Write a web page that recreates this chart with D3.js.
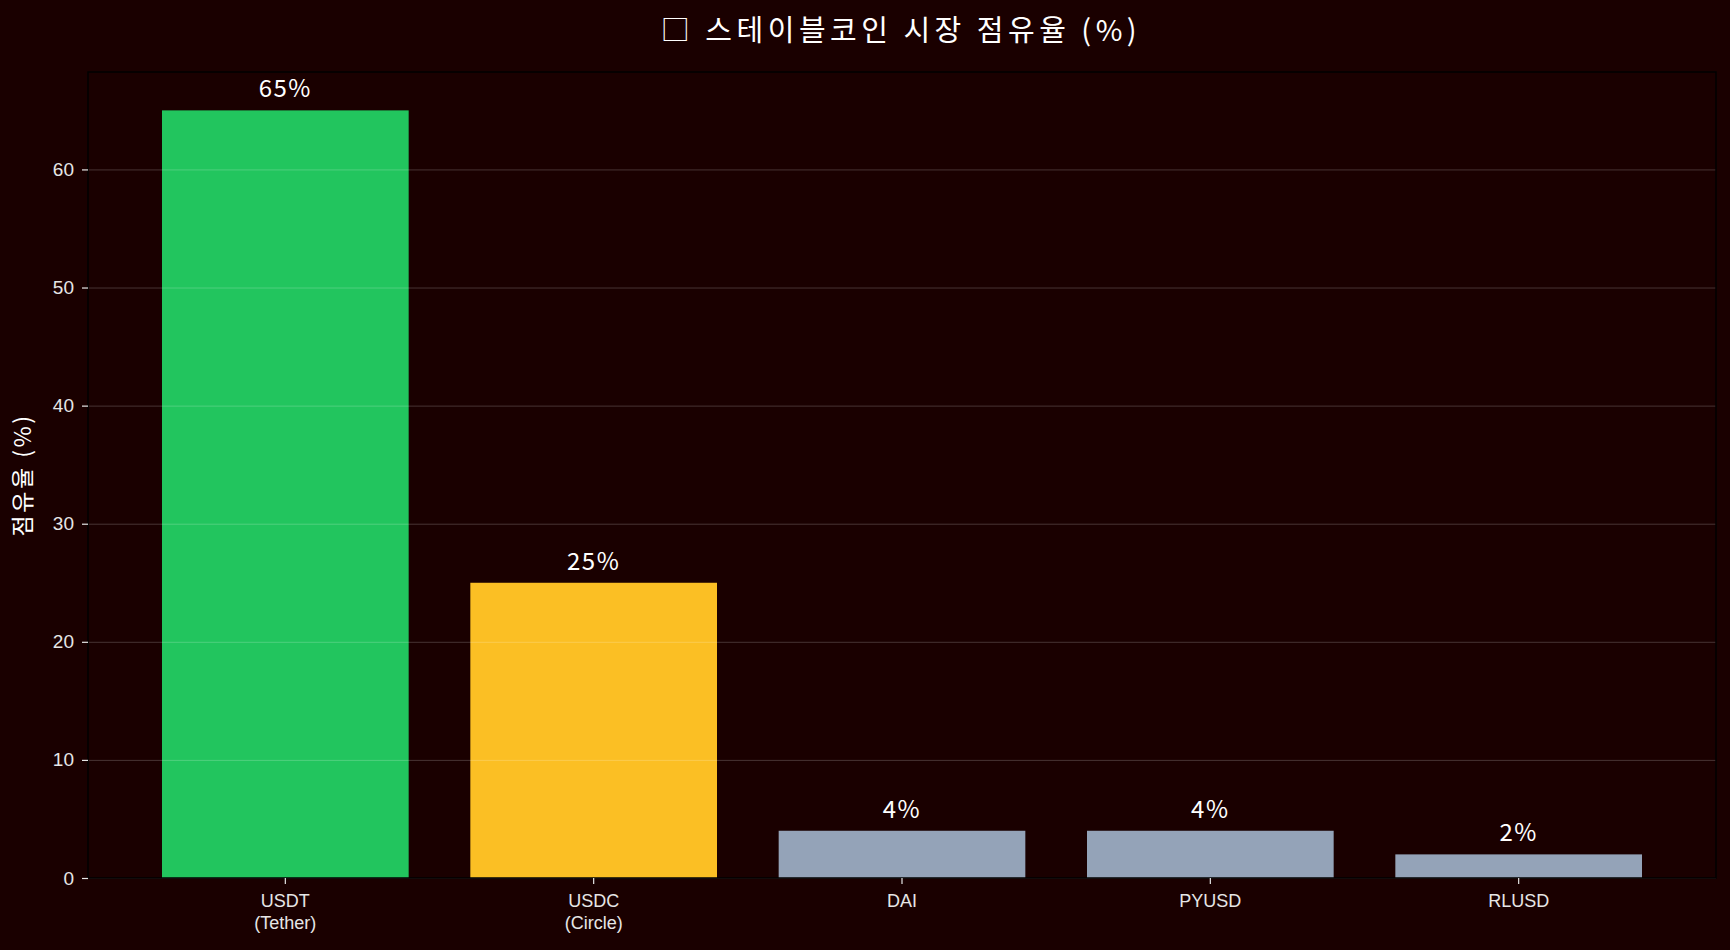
<!DOCTYPE html>
<html>
<head>
<meta charset="utf-8">
<script src="https://cdnjs.cloudflare.com/ajax/libs/d3/7.8.5/d3.min.js"></script>
<style>
	html, body { margin: 0; padding: 0; background: #1a0000; }
	svg { display: block; font-family: "Noto Sans CJK KR", "Noto Sans", sans-serif; }
	.grid line { stroke: #ffffff; stroke-opacity: 0.2; stroke-width: 1; }
	.grid path { display: none; }
	.axis path { display: none; }
	.axis line { stroke: #e6e6e6; stroke-width: 1.2; }
	.axis text { fill: #e6e6e6; font-size: 18px; }
</style>
</head>
<body>
<svg id="chart" width="1730" height="950"></svg>
<script>
// Chart data
var coins = ["USDT\n(Tether)", "USDC\n(Circle)", "DAI", "PYUSD", "RLUSD"];
var shares = [65, 25, 4, 4, 2];
var barColors = ["#22c55e", "#fbbf24", "#94a3b8", "#94a3b8", "#94a3b8"];
var yTicks = [0, 10, 20, 30, 40, 50, 60];
var title = "□ 스테이블코인 시장 점유율 (%)";
var yLabel = "점유율 (%)";

var svg = d3.select("#chart");
var margin = {top: 72, right: 14, bottom: 72, left: 88};
var width = 1730 - margin.left - margin.right,
	height = 950 - margin.top - margin.bottom;

svg.append("rect")
	.attr("width", 1730)
	.attr("height", 950)
	.attr("fill", "#1a0000");

var g = svg.append("g").attr("transform", "translate(" + margin.left + "," + margin.top + ")");

var x = d3.scaleBand()
	.domain(coins)
	.range([0, width])
	.paddingInner(0.2)
	.paddingOuter(0.24);

var y = d3.scaleLinear()
	.domain([0, d3.max(shares) * 1.05])
	.range([height, 0]);

// Bars
g.selectAll(".bar")
	.data(shares)
	.enter().append("rect")
		.attr("class", "bar")
		.attr("x", function(d, i) { return x(coins[i]); })
		.attr("y", function(d) { return y(d); })
		.attr("width", x.bandwidth())
		.attr("height", function(d) { return y(0) - y(d); })
		.attr("fill", function(d, i) { return barColors[i]; });

// Y gridlines (drawn over bars)
g.append("g")
	.attr("class", "grid")
	.call(d3.axisLeft(y).tickValues(yTicks).tickSize(-width).tickFormat(""));

// Value labels
g.selectAll(".value")
	.data(shares)
	.enter().append("text")
		.attr("class", "value")
		.attr("x", function(d, i) { return x(coins[i]) + x.bandwidth() / 2; })
		.attr("y", function(d) { return y(d) - 13; })
		.attr("text-anchor", "middle")
		.attr("fill", "#ffffff")
		.style("font-size", "24px")
		.style("letter-spacing", "1.5px")
		.text(function(d) { return d + "%"; });

// Frame
g.append("rect")
	.attr("width", width)
	.attr("height", height)
	.attr("fill", "none")
	.attr("stroke", "#000000")
	.attr("stroke-width", 1.5);

// Y axis
g.append("g")
	.attr("class", "axis axis--y")
	.call(d3.axisLeft(y).tickValues(yTicks).tickSize(6).tickPadding(8))
	.selectAll("text")
		.style("font-size", "19px");

// X axis
var xAxis = g.append("g")
	.attr("class", "axis axis--x")
	.attr("transform", "translate(0," + height + ")")
	.call(d3.axisBottom(x).tickSize(6).tickPadding(6).tickFormat(""));

xAxis.selectAll(".tick").each(function(d) {
	var t = d3.select(this).append("text")
		.attr("text-anchor", "middle")
		.attr("y", 29);
	d.split("\n").forEach(function(line, i) {
		t.append("tspan")
			.attr("x", 0)
			.attr("dy", i === 0 ? 0 : "1.2em")
			.text(line);
	});
});

// Y label
svg.append("text")
	.attr("transform", "translate(31," + (margin.top + height / 2) + ") rotate(-90)")
	.attr("text-anchor", "middle")
	.attr("fill", "#ffffff")
	.style("font-size", "23px")
	.style("letter-spacing", "2.5px")
	.text(yLabel);

// Title
svg.append("text")
	.attr("x", 901)
	.attr("y", 41)
	.attr("text-anchor", "middle")
	.attr("fill", "#ffffff")
	.style("font-size", "29px")
	.style("letter-spacing", "4.5px")
	.text(title);
</script>
</body>
</html>
